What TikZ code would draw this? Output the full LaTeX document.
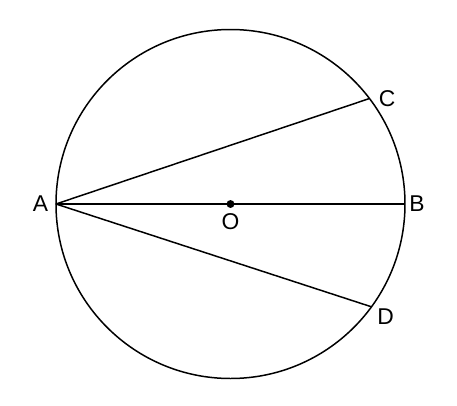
\documentclass[tikz,border=0pt]{standalone}
\usepackage{fontspec}
\setmainfont{Liberation Sans}
\usetikzlibrary{positioning}
\tikzstyle{ptlabel} = [inner sep=0pt, font=\fontsize{13}{15}\selectfont]
\tikzstyle{dot} = [circle, fill=black, inner sep=0pt, minimum size=4.5pt]
\tikzstyle{geo} = [line width=0.85pt]

\begin{document}
\begin{tikzpicture}
    \useasboundingbox (-4.61,-4.02) rectangle (4.53,4.08);
    \coordinate (O) at (0,0);
    \coordinate (A) at (180:3.49);
    \coordinate (B) at (0:3.49);
    \coordinate (C) at (37.2:3.49);
    \coordinate (D) at (-36.1:3.49);

    \draw [geo] (O) circle (3.49);
    \draw [geo] (A) -- (B);
    \draw [geo] (A) -- (C);
    \draw [geo] (A) -- (D);
    \node (dotO) [dot] at (O) {};

    \node (labA) [ptlabel, left=0.15cm of A] {A};
    \node (labB) [ptlabel, right=0.08cm of B] {B};
    \node (labC) [ptlabel, right=0.18cm of C] {C};
    \node (labD) [ptlabel, below right=0.03cm and 0.11cm of D] {D};
    \node (labO) [ptlabel, below=0.18cm of O] {O};
\end{tikzpicture}
\end{document}
